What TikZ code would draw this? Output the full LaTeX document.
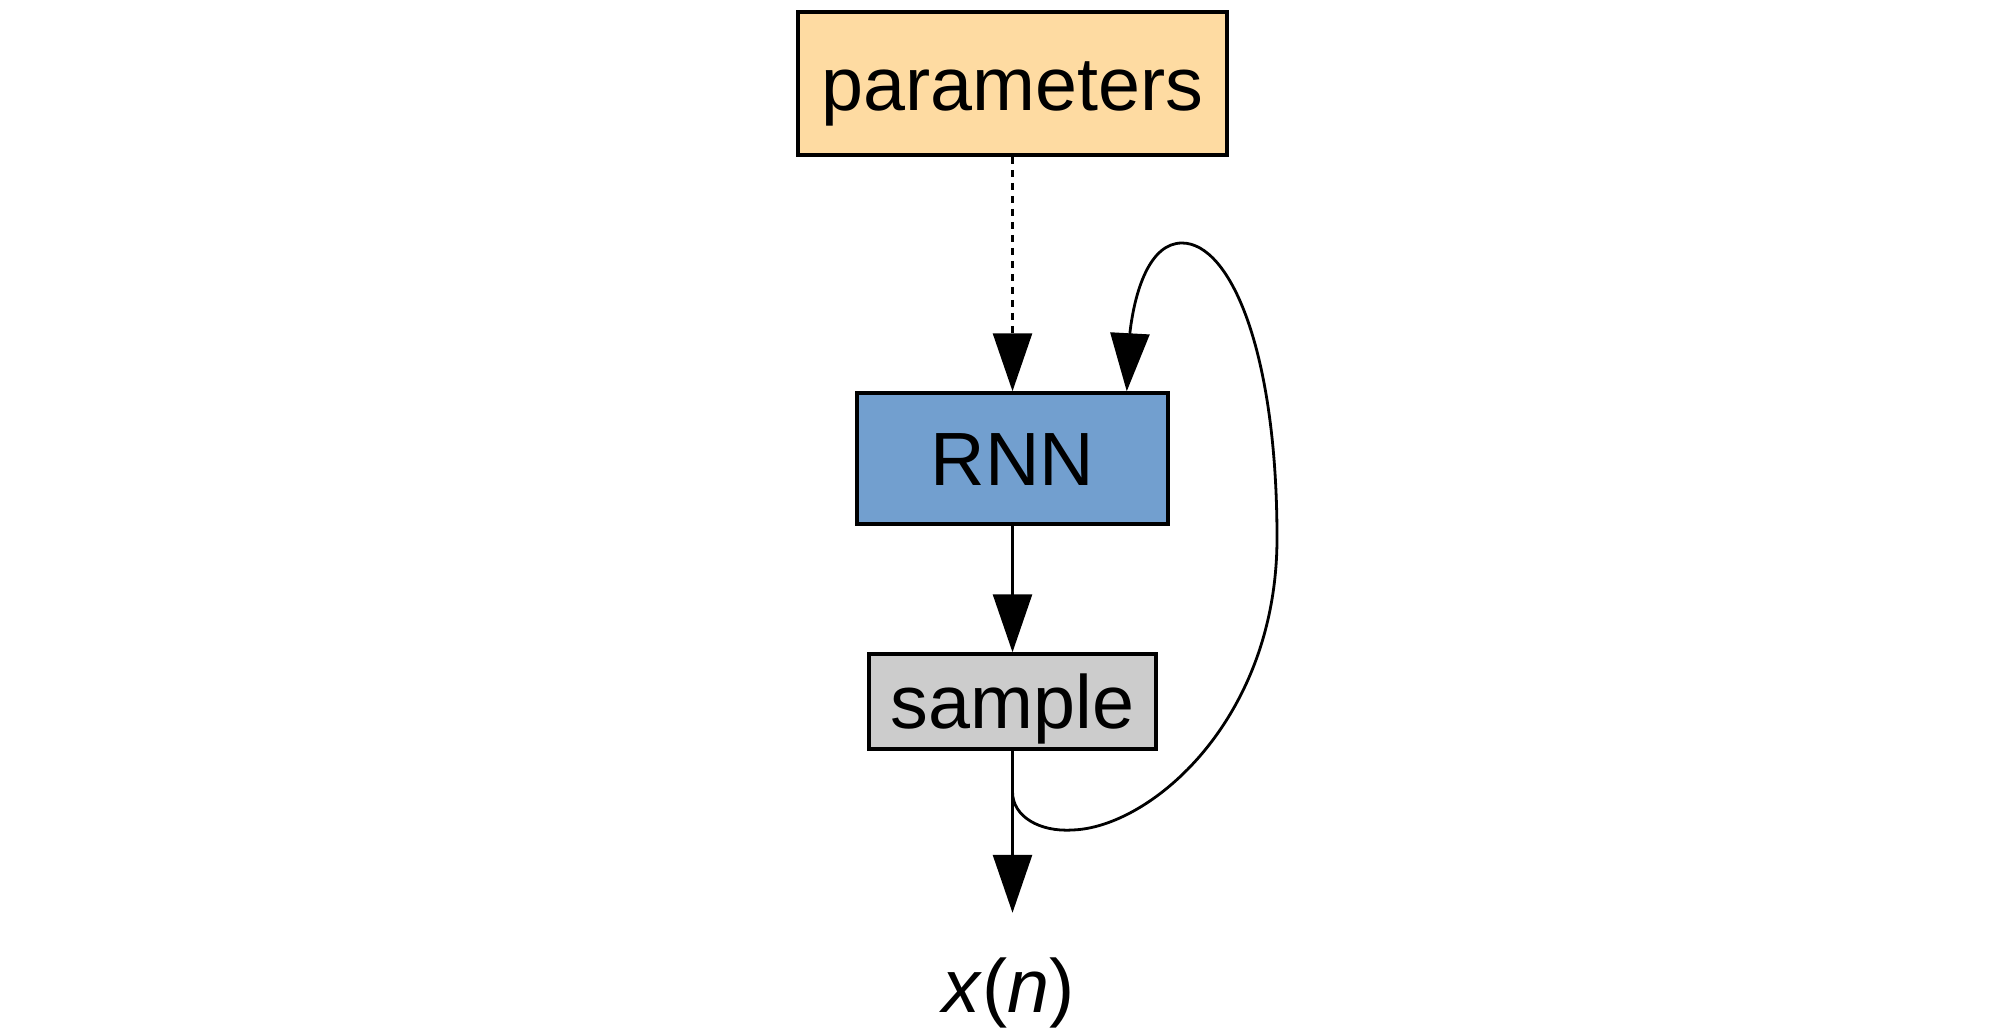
\documentclass[tikz,border=0pt]{standalone}
\usepackage{fontspec}
\setmainfont{Liberation Sans}
\usetikzlibrary{arrows.meta,calc}
\definecolor{paramfill}{HTML}{FEDBA2}
\definecolor{rnnfill}{HTML}{729FCF}
\definecolor{samplefill}{HTML}{CCCCCC}
\tikzset{
  boxnode/.style={draw=black, line width=3.5pt, inner sep=0pt, text height=53pt, text depth=0pt,
    font=\fontsize{75.5}{80}\selectfont},
  edgeline/.style={line width=2.8pt, -{Triangle[length=58pt,width=39pt]}},
}
\begin{document}
\begin{tikzpicture}[x=1pt,y=-1pt]
\useasboundingbox (0,0) rectangle (2000,1036);
\node[boxnode, fill=paramfill, minimum width=429pt, minimum height=143pt] (params) at (1012.5,83.5) {parameters};
\node[boxnode, fill=rnnfill, minimum width=311pt, minimum height=131pt] (rnn) at (1012.5,458.5) {RNN};
\node[boxnode, fill=samplefill, minimum width=287pt, minimum height=95pt] (sample) at (1012.5,701.5) {sample};
\node[anchor=base, inner sep=0pt, text height=99pt, font=\fontsize{75.5}{80}\selectfont] (xn) at (1009,1012) {\textit{x}(\textit{n})};
\draw[edgeline, dash pattern=on 7pt off 6pt] (params.south) -- (rnn.north);
\draw[edgeline] (rnn.south) -- (sample.north);
\draw[edgeline] (sample.south) -- (sample.south |- xn.north);
\coordinate (loopend) at ($(rnn.north east)+(-43,0)$);
\draw[edgeline] (sample.south) -- ++(0,41)
  .. controls ++(0,25) and (1040,832) .. (1072,830)
  .. controls (1150,828) and (1277,720) .. (1277,538)
  .. controls (1277,350) and (1230,243) .. (1182,243)
  .. controls (1150,243) and (1135,290) .. (1130,332)
  -- (loopend);
\end{tikzpicture}
\end{document}
